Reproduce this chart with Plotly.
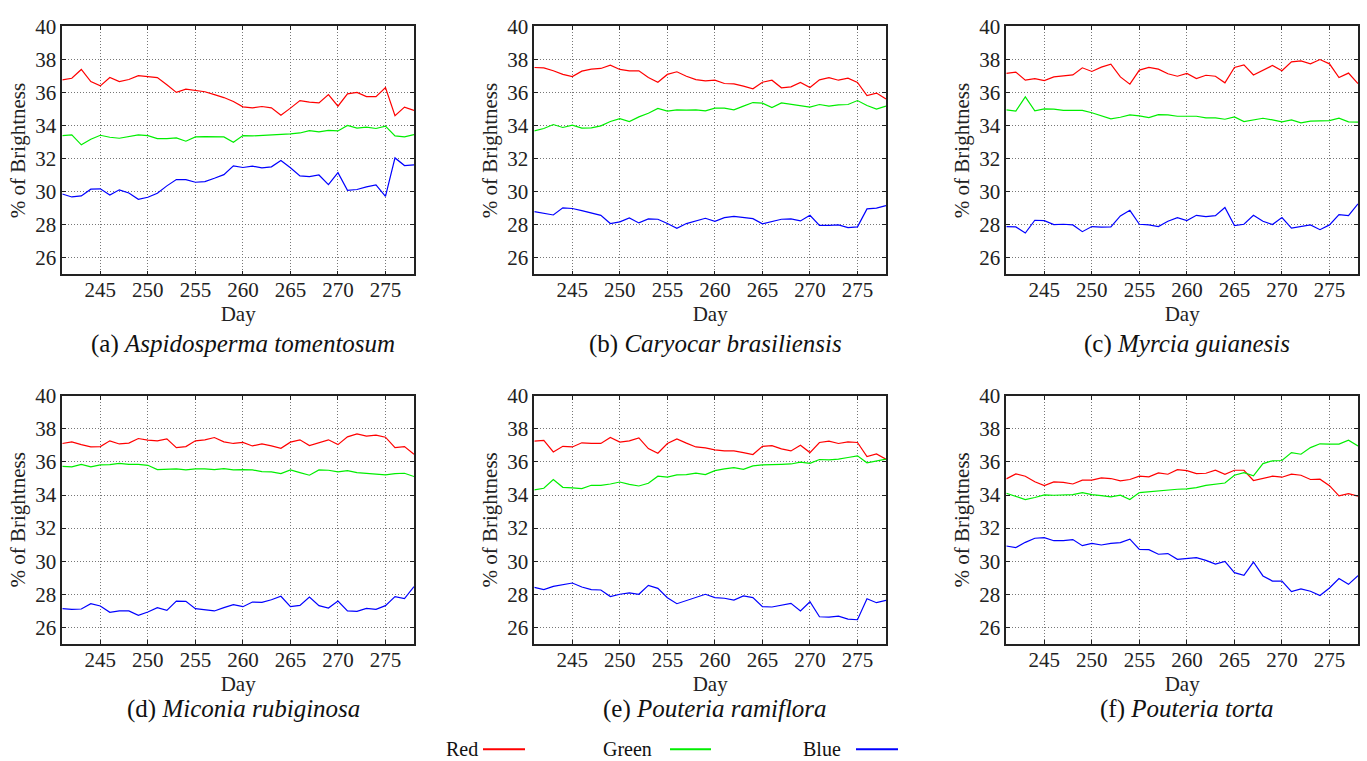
import plotly.graph_objects as go

days = list(range(241, 279))

titles = ["(a) <i>Aspidosperma tomentosum</i>", "(b) <i>Caryocar brasiliensis</i>",
          "(c) <i>Myrcia guianesis</i>", "(d) <i>Miconia rubiginosa</i>",
          "(e) <i>Pouteria ramiflora</i>", "(f) <i>Pouteria torta</i>"]

red_a = [36.77, 36.87, 37.40, 36.67, 36.41, 36.91, 36.67, 36.79, 37.03, 36.97, 36.91, 36.47, 36.01, 36.21, 36.13, 36.05, 35.88, 35.70, 35.46, 35.14, 35.08, 35.16, 35.08, 34.63, 35.06, 35.52, 35.42, 35.38, 35.88, 35.18, 35.92, 36.01, 35.76, 35.76, 36.31, 34.61, 35.12, 34.92]
green_a = [33.40, 33.44, 32.84, 33.18, 33.42, 33.30, 33.24, 33.32, 33.44, 33.40, 33.22, 33.22, 33.26, 33.06, 33.32, 33.34, 33.34, 33.32, 33.00, 33.40, 33.38, 33.40, 33.42, 33.48, 33.50, 33.56, 33.70, 33.62, 33.72, 33.68, 34.01, 33.85, 33.91, 33.83, 33.97, 33.38, 33.32, 33.46]
blue_a = [29.87, 29.69, 29.75, 30.16, 30.18, 29.81, 30.12, 29.93, 29.55, 29.67, 29.91, 30.36, 30.74, 30.74, 30.58, 30.62, 30.82, 31.04, 31.57, 31.47, 31.55, 31.45, 31.51, 31.89, 31.45, 30.96, 30.92, 31.02, 30.44, 31.16, 30.09, 30.14, 30.30, 30.42, 29.73, 32.05, 31.59, 31.63]

red_b = [37.52, 37.50, 37.32, 37.10, 36.97, 37.30, 37.42, 37.46, 37.66, 37.40, 37.32, 37.32, 36.91, 36.63, 37.10, 37.26, 36.99, 36.79, 36.71, 36.75, 36.55, 36.53, 36.39, 36.23, 36.63, 36.75, 36.29, 36.35, 36.61, 36.31, 36.77, 36.91, 36.75, 36.87, 36.61, 35.82, 35.97, 35.62]
green_b = [33.69, 33.83, 34.07, 33.89, 34.03, 33.85, 33.87, 33.99, 34.25, 34.43, 34.25, 34.53, 34.75, 35.04, 34.88, 34.96, 34.94, 34.96, 34.90, 35.06, 35.06, 34.96, 35.18, 35.40, 35.36, 35.10, 35.38, 35.28, 35.18, 35.12, 35.28, 35.18, 35.26, 35.28, 35.52, 35.22, 35.00, 35.18]
blue_b = [28.80, 28.68, 28.60, 29.03, 28.99, 28.86, 28.72, 28.58, 28.08, 28.18, 28.42, 28.12, 28.36, 28.34, 28.08, 27.79, 28.08, 28.26, 28.40, 28.22, 28.44, 28.52, 28.46, 28.38, 28.06, 28.20, 28.34, 28.36, 28.24, 28.58, 27.97, 27.97, 28.00, 27.84, 27.88, 28.97, 29.01, 29.17]

red_c = [37.16, 37.24, 36.75, 36.85, 36.73, 36.95, 37.01, 37.07, 37.50, 37.28, 37.54, 37.72, 36.95, 36.51, 37.36, 37.52, 37.42, 37.14, 36.99, 37.16, 36.85, 37.05, 36.99, 36.59, 37.52, 37.68, 37.07, 37.34, 37.64, 37.32, 37.86, 37.92, 37.74, 38.00, 37.74, 36.91, 37.18, 36.55]
green_c = [34.96, 34.88, 35.74, 34.90, 35.02, 35.00, 34.92, 34.90, 34.92, 34.78, 34.61, 34.41, 34.51, 34.65, 34.59, 34.49, 34.67, 34.65, 34.57, 34.55, 34.57, 34.47, 34.47, 34.39, 34.53, 34.25, 34.37, 34.45, 34.35, 34.23, 34.35, 34.17, 34.27, 34.31, 34.31, 34.45, 34.23, 34.21]
blue_c = [27.90, 27.88, 27.51, 28.28, 28.26, 28.02, 28.04, 28.00, 27.59, 27.90, 27.86, 27.88, 28.54, 28.88, 28.04, 28.00, 27.90, 28.22, 28.44, 28.26, 28.58, 28.50, 28.56, 29.05, 27.96, 28.04, 28.58, 28.22, 28.02, 28.44, 27.80, 27.90, 28.00, 27.71, 28.00, 28.62, 28.56, 29.27]

red_d = [37.12, 37.22, 37.05, 36.91, 36.93, 37.28, 37.09, 37.14, 37.42, 37.32, 37.28, 37.40, 36.87, 36.93, 37.28, 37.34, 37.48, 37.22, 37.12, 37.18, 36.97, 37.09, 36.97, 36.83, 37.20, 37.34, 36.99, 37.18, 37.34, 37.05, 37.52, 37.70, 37.56, 37.62, 37.50, 36.87, 36.93, 36.47]
green_d = [35.74, 35.70, 35.86, 35.70, 35.82, 35.84, 35.92, 35.86, 35.86, 35.80, 35.54, 35.58, 35.58, 35.52, 35.58, 35.58, 35.54, 35.60, 35.52, 35.54, 35.52, 35.42, 35.40, 35.30, 35.52, 35.36, 35.20, 35.52, 35.50, 35.40, 35.48, 35.36, 35.32, 35.30, 35.22, 35.30, 35.32, 35.12]
blue_d = [27.13, 27.09, 27.11, 27.43, 27.29, 26.91, 26.99, 26.99, 26.73, 26.93, 27.19, 27.03, 27.59, 27.57, 27.13, 27.05, 26.99, 27.19, 27.37, 27.25, 27.53, 27.51, 27.67, 27.88, 27.25, 27.33, 27.83, 27.31, 27.17, 27.59, 26.99, 26.97, 27.15, 27.09, 27.31, 27.86, 27.74, 28.46]

red_e = [37.26, 37.30, 36.61, 36.95, 36.91, 37.16, 37.12, 37.12, 37.48, 37.20, 37.28, 37.46, 36.81, 36.53, 37.12, 37.40, 37.14, 36.91, 36.85, 36.73, 36.67, 36.67, 36.57, 36.45, 36.95, 36.99, 36.79, 36.67, 37.01, 36.57, 37.18, 37.26, 37.12, 37.22, 37.18, 36.33, 36.49, 36.17]
green_e = [34.31, 34.41, 34.94, 34.47, 34.43, 34.39, 34.59, 34.59, 34.67, 34.79, 34.65, 34.55, 34.71, 35.14, 35.08, 35.22, 35.24, 35.32, 35.24, 35.48, 35.58, 35.66, 35.56, 35.76, 35.82, 35.82, 35.86, 35.88, 35.99, 35.92, 36.15, 36.13, 36.17, 36.27, 36.37, 35.95, 36.05, 36.17]
blue_e = [28.42, 28.28, 28.48, 28.60, 28.68, 28.44, 28.28, 28.26, 27.86, 28.00, 28.08, 28.00, 28.54, 28.36, 27.79, 27.43, 27.63, 27.83, 28.00, 27.80, 27.76, 27.65, 27.90, 27.80, 27.25, 27.23, 27.33, 27.45, 26.99, 27.55, 26.64, 26.62, 26.68, 26.50, 26.46, 27.73, 27.49, 27.63]

red_f = [34.98, 35.28, 35.14, 34.80, 34.57, 34.80, 34.77, 34.67, 34.90, 34.90, 35.04, 35.00, 34.86, 34.94, 35.14, 35.10, 35.34, 35.26, 35.54, 35.48, 35.30, 35.32, 35.50, 35.26, 35.50, 35.50, 34.88, 35.02, 35.14, 35.08, 35.26, 35.20, 34.94, 34.96, 34.57, 33.95, 34.09, 33.93]
green_f = [34.11, 33.91, 33.73, 33.85, 34.01, 33.99, 33.99, 34.03, 34.15, 34.03, 33.97, 33.89, 33.99, 33.73, 34.15, 34.21, 34.23, 34.29, 34.35, 34.37, 34.45, 34.59, 34.67, 34.73, 35.20, 35.36, 35.16, 35.90, 36.07, 36.09, 36.57, 36.47, 36.87, 37.10, 37.08, 37.08, 37.32, 36.97]
blue_f = [30.92, 30.82, 31.14, 31.39, 31.43, 31.24, 31.24, 31.31, 30.94, 31.08, 30.98, 31.08, 31.12, 31.33, 30.72, 30.70, 30.42, 30.46, 30.11, 30.17, 30.22, 30.05, 29.83, 29.99, 29.31, 29.15, 29.95, 29.11, 28.80, 28.80, 28.16, 28.32, 28.18, 27.92, 28.38, 28.95, 28.60, 29.13]

panels = [(red_a, green_a, blue_a), (red_b, green_b, blue_b), (red_c, green_c, blue_c),
          (red_d, green_d, blue_d), (red_e, green_e, blue_e), (red_f, green_f, blue_f)]

series_names = ["Red", "Green", "Blue"]
series_colors = ["#ff0000", "#00ee00", "#0000ff"]
x_ticks = [245, 250, 255, 260, 265, 270, 275]
y_ticks = [26, 28, 30, 32, 34, 36, 38, 40]

W, H = 1367, 761
col_px = [(62.3, 414.0), (534.3, 886.0), (1006.3, 1358.0)]
row_px = [(14.7, 266.7), (390.0, 642.0)]
caption_y_px = [337, 708]

FONT = "Liberation Serif"

fig = go.Figure()
for i, vals in enumerate(panels):
    r, c = divmod(i, 3)
    n = i + 1
    xa = "x" if n == 1 else f"x{n}"
    ya = "y" if n == 1 else f"y{n}"
    for s, (name, color) in enumerate(zip(series_names, series_colors)):
        fig.add_trace(go.Scatter(x=days, y=vals[s], mode="lines", name=name,
                                 line=dict(color=color, width=1.2),
                                 xaxis=xa, yaxis=ya, showlegend=False))
    x0, x1 = col_px[c]
    y0, y1 = row_px[r]
    axis_common = dict(showline=True, mirror="ticks", linecolor="#222", linewidth=1.5,
                       showgrid=True, gridcolor="#777", griddash="1px,2px", gridwidth=1,
                       zeroline=False, ticks="inside", ticklen=4, tickcolor="#222",
                       tickfont=dict(family=FONT, size=21, color="#222"))
    fig.layout[f"xaxis{'' if n == 1 else n}"] = dict(
        domain=[x0 / W, x1 / W], range=[241, 278], tickvals=x_ticks, anchor=ya,
        ticklabelstandoff=-4,
        title=dict(text="Day", font=dict(family=FONT, size=21, color="#222"), standoff=0),
        **axis_common)
    fig.layout[f"yaxis{'' if n == 1 else n}"] = dict(
        domain=[1 - y1 / H, 1 - y0 / H], range=[25, 40], tickvals=y_ticks, anchor=xa,
        title=dict(text="% of Brightness", font=dict(family=FONT, size=21, color="#222"), standoff=4),
        **axis_common)
    cx = (x0 + x1) / 2 + 5
    fig.add_annotation(text=titles[i], x=cx / W, y=1 - caption_y_px[r] / H, xref="paper", yref="paper",
                       showarrow=False, xanchor="center", yanchor="middle",
                       font=dict(family=FONT, size=25, color="#111"))

# Legend drawn as text followed by a line sample
leg_y = 1 - 749 / H
leg_items = [(480, 483, 525), (654, 670, 711), (843, 856, 898)]
for (tx, lx0, lx1), name, color in zip(leg_items, series_names, series_colors):
    fig.add_annotation(text=name, x=tx / W, y=leg_y, xref="paper", yref="paper", showarrow=False,
                       xanchor="right", yanchor="middle", font=dict(family=FONT, size=20, color="#111"))
    fig.add_shape(type="line", xref="paper", yref="paper", x0=lx0 / W, x1=lx1 / W, y0=leg_y, y1=leg_y,
                  line=dict(color=color, width=2))

fig.update_layout(width=W, height=H, margin=dict(l=0, r=0, t=0, b=0),
                  plot_bgcolor="white", paper_bgcolor="white", showlegend=False)

fig.write_html("out.html")
